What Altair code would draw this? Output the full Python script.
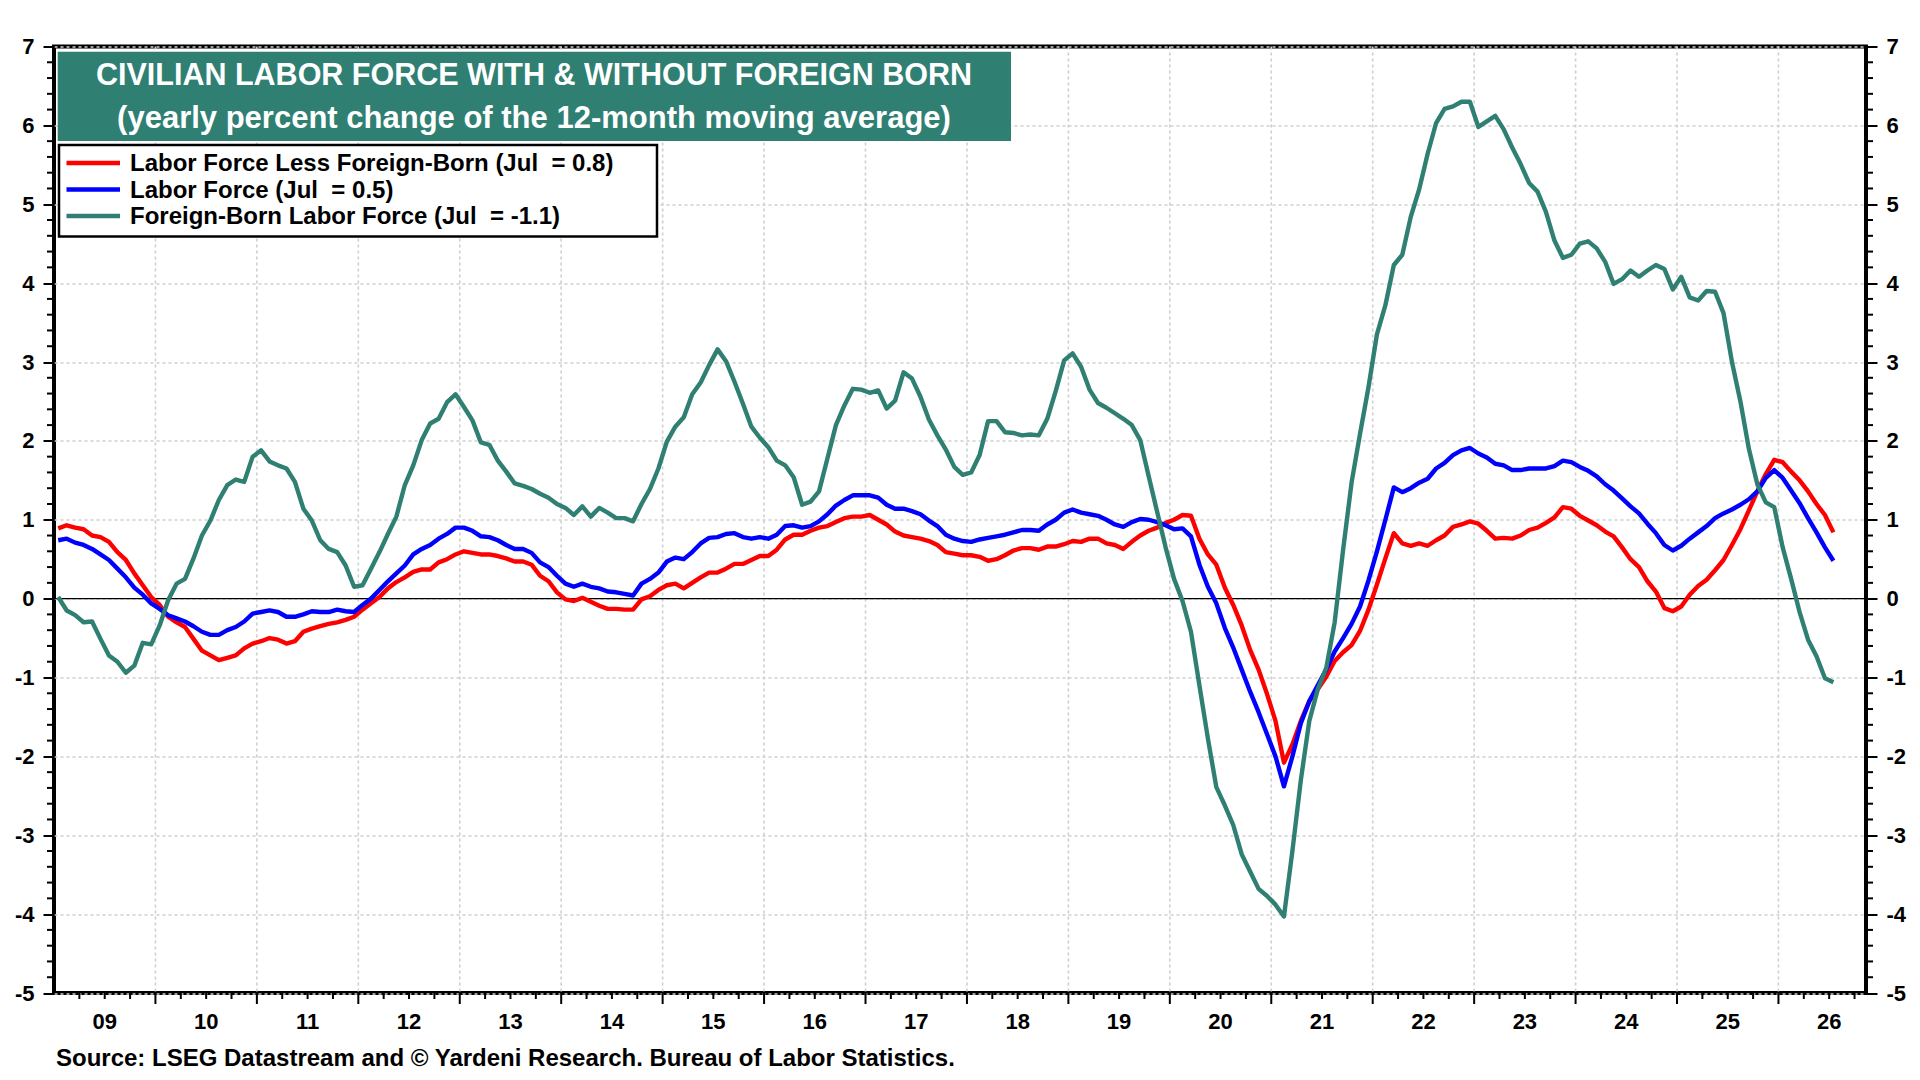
import altair as alt
import pandas as pd

FONT = "Liberation Sans"

# ---------------- data (monthly, Jan 2009 .. Jul 2026) ----------------
FIRST_YEAR = 2009
N_MONTHS = 211
month_labels = [f"{FIRST_YEAR + i // 12}-{i % 12 + 1:02d}" for i in range(N_MONTHS)]

SERIES = [
    "Labor Force Less Foreign-Born (Jul  = 0.8)",
    "Labor Force (Jul  = 0.5)",
    "Foreign-Born Labor Force (Jul  = -1.1)",
]
COLORS = ["#ff0000", "#0000ff", "#2f7f73"]

less_foreign_born = [
    0.89, 0.93, 0.90, 0.88, 0.80, 0.78, 0.72, 0.59, 0.49, 0.32, 0.17, 0.02,
    -0.08, -0.23, -0.30, -0.36, -0.51, -0.66, -0.72, -0.78, -0.75, -0.72, -0.63, -0.57,
    -0.54, -0.50, -0.52, -0.57, -0.54, -0.42, -0.38, -0.35, -0.32, -0.30, -0.27, -0.23,
    -0.14, -0.06, 0.02, 0.13, 0.21, 0.27, 0.34, 0.37, 0.37, 0.46, 0.50, 0.56,
    0.60, 0.58, 0.56, 0.56, 0.54, 0.51, 0.47, 0.47, 0.43, 0.29, 0.22, 0.08,
    -0.01, -0.03, 0.01, -0.04, -0.09, -0.13, -0.13, -0.14, -0.14, -0.01, 0.03, 0.11,
    0.17, 0.19, 0.13, 0.20, 0.27, 0.33, 0.33, 0.38, 0.44, 0.44, 0.49, 0.54,
    0.54, 0.62, 0.75, 0.81, 0.81, 0.86, 0.90, 0.92, 0.97, 1.02, 1.04, 1.04,
    1.06, 1.00, 0.94, 0.85, 0.80, 0.78, 0.76, 0.73, 0.68, 0.59, 0.57, 0.55,
    0.55, 0.53, 0.48, 0.50, 0.55, 0.61, 0.64, 0.64, 0.62, 0.66, 0.66, 0.69,
    0.73, 0.72, 0.76, 0.76, 0.70, 0.68, 0.63, 0.72, 0.80, 0.86, 0.90, 0.96,
    1.00, 1.06, 1.05, 0.76, 0.56, 0.43, 0.14, -0.08, -0.34, -0.65, -0.90, -1.21,
    -1.55, -2.08, -1.85, -1.55, -1.30, -1.15, -0.99, -0.79, -0.68, -0.59, -0.41, -0.14,
    0.18, 0.51, 0.83, 0.70, 0.67, 0.70, 0.67, 0.74, 0.80, 0.91, 0.94, 0.98,
    0.95, 0.86, 0.76, 0.77, 0.76, 0.80, 0.87, 0.90, 0.96, 1.03, 1.16, 1.14,
    1.05, 0.99, 0.93, 0.85, 0.79, 0.65, 0.50, 0.40, 0.22, 0.09, -0.12, -0.16,
    -0.10, 0.05, 0.16, 0.24, 0.36, 0.49, 0.68, 0.88, 1.12, 1.36, 1.58, 1.76,
    1.73, 1.61, 1.50, 1.36, 1.20, 1.06, 0.84,
]

labor_force = [
    0.74, 0.76, 0.71, 0.68, 0.63, 0.56, 0.49, 0.38, 0.27, 0.14, 0.05, -0.06,
    -0.13, -0.21, -0.25, -0.29, -0.35, -0.42, -0.46, -0.46, -0.40, -0.36, -0.29, -0.19,
    -0.17, -0.15, -0.17, -0.23, -0.23, -0.20, -0.16, -0.17, -0.17, -0.14, -0.16, -0.17,
    -0.08, 0.00, 0.11, 0.22, 0.32, 0.42, 0.56, 0.63, 0.68, 0.76, 0.82, 0.90,
    0.90, 0.86, 0.79, 0.78, 0.74, 0.68, 0.63, 0.63, 0.58, 0.46, 0.40, 0.29,
    0.19, 0.15, 0.19, 0.15, 0.13, 0.09, 0.08, 0.06, 0.04, 0.19, 0.25, 0.33,
    0.47, 0.52, 0.50, 0.59, 0.70, 0.77, 0.78, 0.82, 0.83, 0.78, 0.76, 0.78,
    0.76, 0.81, 0.92, 0.93, 0.90, 0.92, 0.98, 1.07, 1.18, 1.25, 1.31, 1.31,
    1.31, 1.28, 1.19, 1.14, 1.14, 1.11, 1.07, 0.99, 0.92, 0.81, 0.76, 0.73,
    0.72, 0.75, 0.77, 0.79, 0.81, 0.84, 0.87, 0.87, 0.86, 0.94, 1.00, 1.09,
    1.13, 1.09, 1.07, 1.05, 1.00, 0.94, 0.91, 0.97, 1.01, 1.00, 0.97, 0.93,
    0.88, 0.89, 0.79, 0.43, 0.15, -0.06, -0.37, -0.62, -0.90, -1.18, -1.44, -1.72,
    -2.00, -2.38, -2.00, -1.58, -1.30, -1.10, -0.90, -0.67, -0.50, -0.32, -0.10, 0.23,
    0.60, 1.00, 1.41, 1.35, 1.40, 1.47, 1.52, 1.65, 1.72, 1.82, 1.88, 1.91,
    1.84, 1.79, 1.71, 1.69, 1.63, 1.63, 1.65, 1.65, 1.65, 1.68, 1.75, 1.73,
    1.67, 1.62, 1.55, 1.45, 1.37, 1.27, 1.17, 1.08, 0.95, 0.83, 0.68, 0.61,
    0.67, 0.76, 0.84, 0.92, 1.02, 1.08, 1.13, 1.19, 1.26, 1.36, 1.53, 1.63,
    1.53, 1.37, 1.21, 1.02, 0.84, 0.65, 0.48,
]

foreign_born = [
    0.02, -0.15, -0.21, -0.30, -0.29, -0.51, -0.72, -0.80, -0.94, -0.85, -0.56, -0.58,
    -0.34, -0.02, 0.19, 0.25, 0.51, 0.80, 0.99, 1.25, 1.44, 1.51, 1.48, 1.80,
    1.88, 1.74, 1.69, 1.65, 1.48, 1.14, 0.99, 0.74, 0.63, 0.59, 0.42, 0.15,
    0.17, 0.38, 0.59, 0.82, 1.04, 1.44, 1.69, 2.01, 2.22, 2.28, 2.49, 2.59,
    2.43, 2.26, 1.98, 1.95, 1.75, 1.61, 1.46, 1.43, 1.39, 1.33, 1.28, 1.20,
    1.15, 1.06, 1.17, 1.04, 1.15, 1.09, 1.02, 1.02, 0.98, 1.20, 1.39, 1.65,
    1.99, 2.18, 2.30, 2.59, 2.74, 2.96, 3.16, 3.01, 2.75, 2.47, 2.18, 2.04,
    1.92, 1.75, 1.69, 1.54, 1.19, 1.23, 1.36, 1.78, 2.20, 2.45, 2.66, 2.65,
    2.61, 2.64, 2.41, 2.51, 2.87, 2.79, 2.56, 2.27, 2.07, 1.89, 1.67, 1.57,
    1.60, 1.82, 2.25, 2.25, 2.11, 2.10, 2.07, 2.08, 2.07, 2.28, 2.63, 3.02,
    3.11, 2.94, 2.65, 2.48, 2.42, 2.35, 2.28, 2.20, 2.01, 1.55, 1.10, 0.65,
    0.25, -0.03, -0.42, -1.10, -1.77, -2.39, -2.62, -2.87, -3.24, -3.46, -3.68, -3.77,
    -3.88, -4.03, -3.20, -2.30, -1.55, -1.15, -0.88, -0.30, 0.62, 1.47, 2.09, 2.68,
    3.35, 3.72, 4.23, 4.36, 4.84, 5.19, 5.64, 6.03, 6.21, 6.24, 6.30, 6.30,
    5.98, 6.05, 6.12, 5.95, 5.72, 5.51, 5.27, 5.16, 4.90, 4.54, 4.32, 4.36,
    4.50, 4.53, 4.44, 4.27, 3.99, 4.05, 4.16, 4.08, 4.16, 4.23, 4.18, 3.92,
    4.08, 3.82, 3.78, 3.90, 3.89, 3.62, 3.00, 2.50, 1.90, 1.45, 1.22, 1.16,
    0.65, 0.25, -0.17, -0.52, -0.73, -1.01, -1.06,
]

TITLE_1 = "CIVILIAN LABOR FORCE WITH & WITHOUT FOREIGN BORN"
TITLE_2 = "(yearly percent change of the 12-month moving average)"
SOURCE = "Source: LSEG Datastream and \u00a9 Yardeni Research. Bureau of Labor Statistics."

YEARS = list(range(2009, 2027))
YEAR_LABELS = [f"{y % 100:02d}" for y in YEARS]
Y_TICKS = list(range(-5, 8))

# ---------------- build tables ----------------
rows = []
for name, vals in zip(SERIES, [less_foreign_born, labor_force, foreign_born]):
    for lab, v in zip(month_labels, vals):
        yr, mo = lab.split("-")
        rows.append({"series": name, "t": int(yr) + (int(mo) - 0.5) / 12.0, "v": v})
df = pd.DataFrame(rows)

year_df = pd.DataFrame({"t": [y for y in YEARS[1:]]})
label_df = pd.DataFrame({"t": [y + 0.5 for y in YEARS], "lab": YEAR_LABELS})
quarter_df = pd.DataFrame({"t": [y + q for y in YEARS for q in (0.25, 0.5, 0.75)]})
minor_y_df = pd.DataFrame({"v": [round(-5 + 0.2 * k, 1) for k in range(61) if k % 5 != 0]})
zero_df = pd.DataFrame({"v": [0.0]})
one = pd.DataFrame({"a": [0]})

W, H = 1812, 946.5
XS = alt.Scale(domain=[2009.0, 2026.863], nice=False, zero=False)
YS = alt.Scale(domain=[-5, 7], nice=False, zero=False)
GRID = "#cfcfcf"


def y_axis(orient, grid):
    return alt.Axis(
        orient=orient, values=Y_TICKS, grid=grid, gridColor=GRID, gridDash=[3, 3],
        gridWidth=1.6, domain=False, ticks=True, tickSize=11, tickWidth=2,
        tickColor="black", labelFont=FONT, labelFontSize=22, labelFontWeight="bold",
        labelColor="black", labelPadding=9, labelExpr="'' + datum.value", title=None,
    )


# vertical grid lines
vgrid = alt.Chart(year_df).mark_rule(color=GRID, strokeDash=[3, 3], strokeWidth=1.6).encode(
    x=alt.X("t:Q", scale=XS, axis=None),
    y=alt.value(0), y2=alt.value(H),
)

# zero line (carries right axis)
zero = alt.Chart(zero_df).mark_rule(color="black", strokeWidth=1.2).encode(
    y=alt.Y("v:Q", scale=YS, axis=y_axis("right", False)),
    x=alt.value(0), x2=alt.value(W),
)

lines = alt.Chart(df).mark_line(strokeWidth=4.4, strokeJoin="round").encode(
    x=alt.X("t:Q", scale=XS, axis=None),
    y=alt.Y("v:Q", scale=YS, axis=y_axis("left", True)),
    color=alt.Color("series:N", scale=alt.Scale(domain=SERIES, range=COLORS), legend=None),
    detail="series:N",
)

# minor y ticks (left & right)
minor_left = alt.Chart(minor_y_df).mark_rule(color="black", strokeWidth=2).encode(
    y=alt.Y("v:Q", scale=YS, axis=None), x=alt.value(-7), x2=alt.value(0))
minor_right = alt.Chart(minor_y_df).mark_rule(color="black", strokeWidth=2).encode(
    y=alt.Y("v:Q", scale=YS, axis=None), x=alt.value(W), x2=alt.value(W + 7))

# x axis ticks and labels
year_ticks = alt.Chart(year_df).mark_rule(color="black", strokeWidth=2).encode(
    x=alt.X("t:Q", scale=XS, axis=None), y=alt.value(H), y2=alt.value(H + 11))
q_ticks = alt.Chart(quarter_df).mark_rule(color="black", strokeWidth=2).encode(
    x=alt.X("t:Q", scale=XS, axis=None), y=alt.value(H), y2=alt.value(H + 6))
year_text = alt.Chart(label_df).mark_text(
    font=FONT, fontSize=22, fontWeight="bold", color="black", align="center", baseline="middle"
).encode(x=alt.X("t:Q", scale=XS, axis=None), y=alt.value(H + 29), text="lab:N")

# title box
title_box = alt.Chart(one).mark_rect(color="#2f7f73").encode(
    x=alt.value(3.7), x2=alt.value(957), y=alt.value(5.2), y2=alt.value(94.5))
title_1 = alt.Chart(one).mark_text(
    text=TITLE_1, font=FONT, fontSize=30.5, fontWeight="bold", color="white",
    align="center", baseline="middle").encode(x=alt.value(480), y=alt.value(29))
title_2 = alt.Chart(one).mark_text(
    text=TITLE_2, font=FONT, fontSize=31, fontWeight="bold", color="white",
    align="center", baseline="middle").encode(x=alt.value(480), y=alt.value(72))

# legend box
leg_box = alt.Chart(one).mark_rect(fill="white", stroke="black", strokeWidth=2.5).encode(
    x=alt.value(5), x2=alt.value(603), y=alt.value(98.5), y2=alt.value(190))
leg_layers = [leg_box]
for i, (name, col) in enumerate(zip(SERIES, COLORS)):
    yy = 116.5 + 26.5 * i
    shown = name.replace("  ", " \u00a0")  # keep the double space visible
    leg_layers.append(alt.Chart(one).mark_rule(color=col, strokeWidth=4.5).encode(
        x=alt.value(12.5), x2=alt.value(66), y=alt.value(yy)))
    leg_layers.append(alt.Chart(one).mark_text(
        text=shown, font=FONT, fontSize=24, fontWeight="bold", color="black",
        align="left", baseline="middle").encode(x=alt.value(76), y=alt.value(yy + 1)))

source = alt.Chart(one).mark_text(
    text=SOURCE, font=FONT, fontSize=24, fontWeight="bold", color="black",
    align="left", baseline="middle").encode(x=alt.value(2), y=alt.value(1012))

chart = alt.layer(
    vgrid, zero, lines, minor_left, minor_right, year_ticks, q_ticks, year_text,
    title_box, title_1, title_2, *leg_layers, source,
).resolve_axis(y="independent").properties(
    width=W, height=H,
    autosize=alt.AutoSizeParams(type="none"),
    padding={"left": 46, "top": 38.5, "right": 46, "bottom": 78},
    background="white",
).configure_view(stroke="black", strokeWidth=4)

chart.save("out.html", embed_options={"renderer": "svg", "actions": False})
